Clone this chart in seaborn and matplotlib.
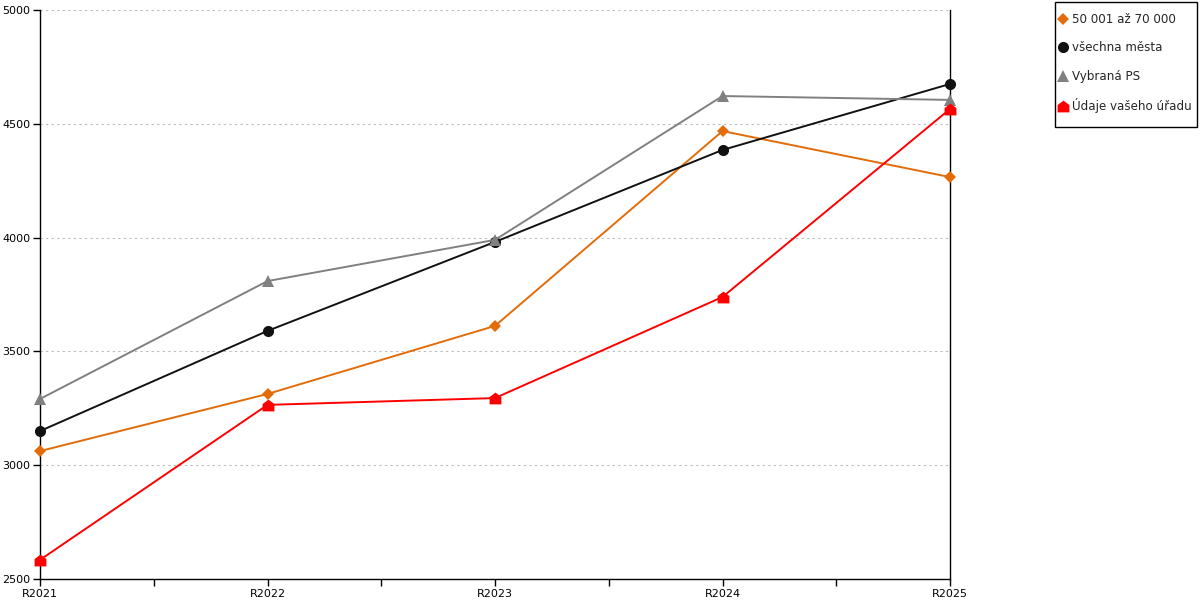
import pandas as pd
import matplotlib
matplotlib.use("Agg")
import matplotlib.pyplot as plt
from matplotlib.lines import Line2D
from matplotlib.patches import Rectangle
from matplotlib.ticker import MultipleLocator
import seaborn as sns

years = ["R2021", "R2022", "R2023", "R2024", "R2025"]
series_names = ["50 001 až 70 000", "všechna města", "Vybraná PS", "Údaje vašeho úřadu"]
skupina = [3062, 3313, 3612, 4468, 4266]
vsechna = [3150, 3590, 3981, 4385, 4675]
vybrana = [3291, 3809, 3990, 4622, 4605]
urad = [2584, 3265, 3295, 3739, 4565]

colors = ["#E36C0A", "#111111", "#808080", "#FF0000"]
# little house shape for the office series
house = [(-1, -1), (1, -1), (1, 0.25), (0, 1), (-1, 0.25), (-1, -1)]
marker_list = ["D", "o", "^", house]
sizes = [6, 8, 8, 8.5]

rows = []
for name, vals in zip(series_names, [skupina, vsechna, vybrana, urad]):
    for i, v in enumerate(vals):
        rows.append({"x": i, "value": v, "series": name})
df = pd.DataFrame(rows)

sns.set_style("white")
plt.rcParams["font.family"] = ["DejaVu Sans"]

fig = plt.figure(figsize=(12, 6), dpi=100)
ax = fig.add_axes([40 / 1200, 21 / 600, 910 / 1200, 569 / 600])

sns.lineplot(data=df, x="x", y="value", hue="series", style="series",
             hue_order=series_names, style_order=series_names,
             palette=dict(zip(series_names, colors)),
             markers=dict(zip(series_names, marker_list)), dashes=False,
             linewidth=1.4, markersize=8, markeredgewidth=0,
             legend=False, ax=ax, clip_on=False, zorder=3)

# diamonds a bit smaller
for line, ms in zip(ax.get_lines(), sizes):
    line.set_markersize(ms)

ax.set_xlim(0, 4)
ax.set_ylim(2500, 5000)
ax.set_xticks(range(len(years)))
ax.set_xticklabels(years)
ax.xaxis.set_minor_locator(MultipleLocator(0.5))
ax.set_yticks([2500, 3000, 3500, 4000, 4500, 5000])
ax.set_xlabel("")
ax.set_ylabel("")

ax.tick_params(axis="both", which="both", direction="out", length=5, width=1,
               color="black", labelsize=8, labelcolor="black", pad=2)
ax.tick_params(axis="y", left=True)
ax.tick_params(axis="x", bottom=True, which="both")

for y in [3000, 3500, 4000, 4500, 5000]:
    ax.axhline(y, color="#BBBBBB", linestyle=(0, (2, 3)), linewidth=0.8, zorder=1)

ax.spines["top"].set_visible(False)
for s in ["left", "bottom", "right"]:
    ax.spines[s].set_visible(True)
    ax.spines[s].set_color("black")
    ax.spines[s].set_linewidth(1)

# legend box: drawn separately so the padding can differ per side
fig.patches.append(Rectangle((1055 / 1200, 1 - 127 / 600), 142 / 1200, 125 / 600,
                             transform=fig.transFigure, fill=False,
                             edgecolor="black", linewidth=1))
handles = [Line2D([], [], linestyle="none", marker=m, color=c, markersize=ms,
                  markeredgewidth=0)
           for m, c, ms in zip(marker_list, colors, sizes)]
leg = fig.legend(handles, series_names, loc="center",
                 bbox_to_anchor=(1126 / 1200, 1 - 63 / 600),
                 frameon=False, fontsize=8.6, labelspacing=1.3,
                 handlelength=0.6, handletextpad=0.45, borderpad=0.2,
                 borderaxespad=0)

fig.savefig("out.png", dpi=100)
